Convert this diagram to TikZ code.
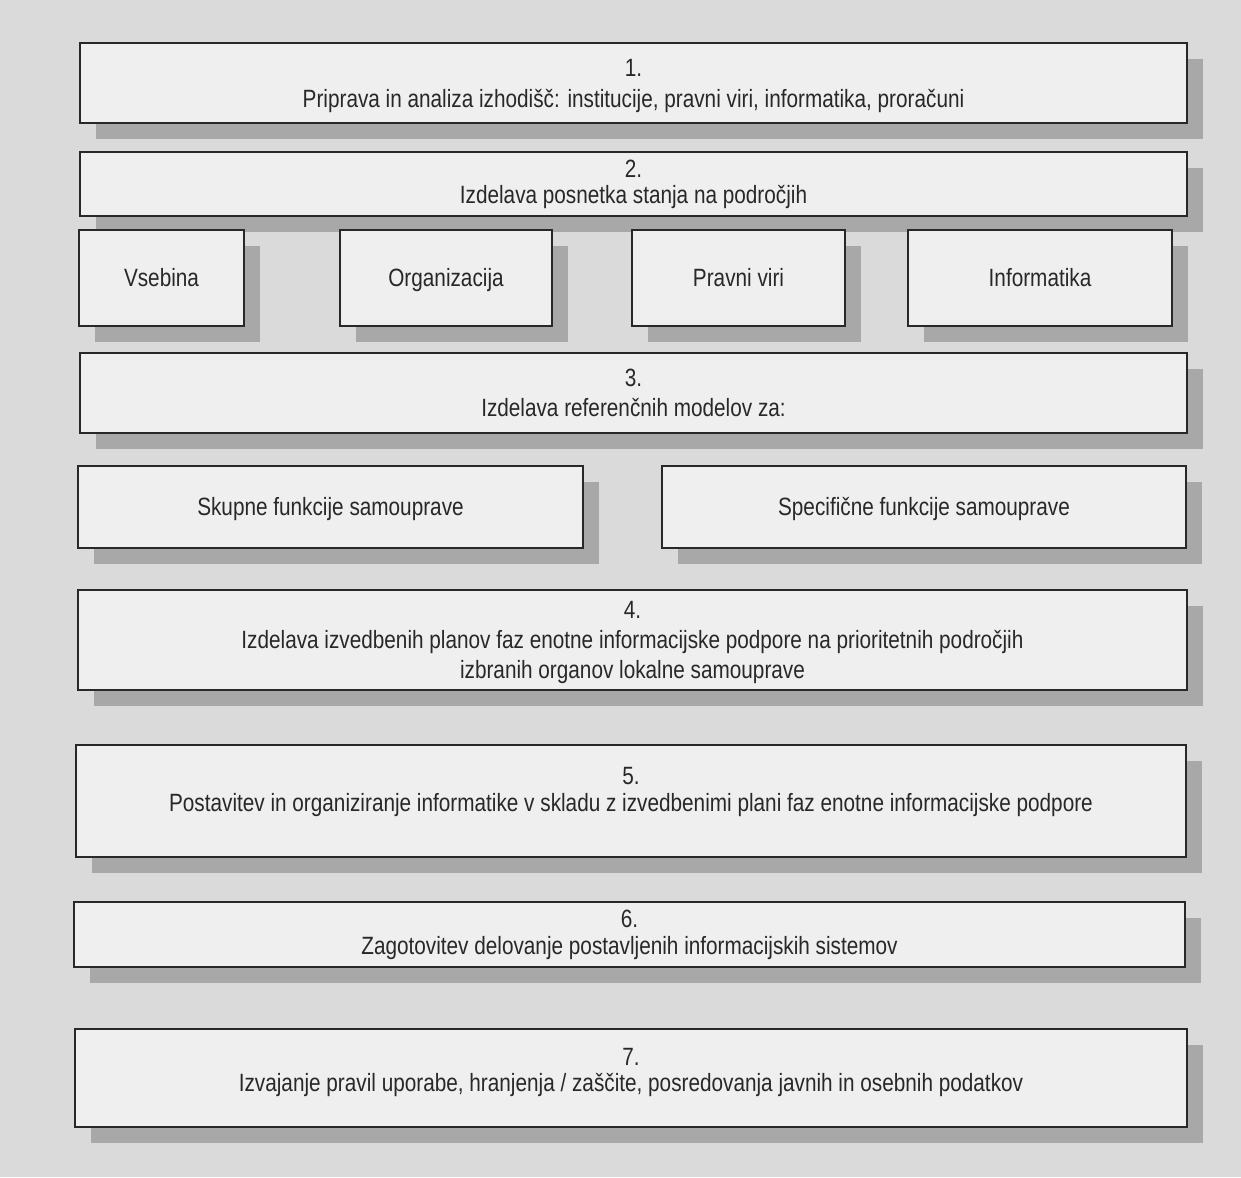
\documentclass[tikz,border=0pt]{standalone}
\usepackage{fontspec}
\setmainfont{Liberation Sans}[FakeStretch=0.83]
\usetikzlibrary{shadows}

\definecolor{pagegray}{RGB}{218,218,218}
\definecolor{boxgray}{RGB}{239,239,239}
\definecolor{shadowgray}{RGB}{168,168,168}
\definecolor{inkgray}{RGB}{40,40,40}

\tikzset{
    stepbox/.style={draw=inkgray, line width=1pt, fill=boxgray, text=inkgray,
        align=center, inner sep=0pt, font=\fontsize{12.5}{15}\selectfont,
        drop shadow={shadow xshift=8pt, shadow yshift=-8pt, fill=shadowgray, opacity=1}},
    onerow/.style={text height=9pt, text depth=1pt},
    wide/.style={minimum width=#1*0.5pt},
    tall/.style={minimum height=#1*0.5pt}
}

\begin{document}
\begin{tikzpicture}[x=0.5pt,y=-0.5pt]
        \fill[pagegray] (0,0) rectangle (1241,1177);
        \useasboundingbox (0,0) rectangle (1241,1177);
        % 1. and 2.
        \node[stepbox, wide=1107, tall=80, text depth=0pt] (prip) at (633.5,83)
            {1.\\[0.5pt] Priprava in analiza izhodišč: institucije, pravni viri, informatika, proračuni};
        \node[stepbox, wide=1107, tall=64] (posn) at (633.5,184)
            {2.\\[-2pt] Izdelava posnetka stanja na področjih};
        \foreach \x/\w/\t/\n in {161.5/165/Vsebina/vseb, 446/212/Organizacija/orga,
                                 738.5/213/Pravni viri/prav, 1040/264/Informatika/info}
        {
            \node[stepbox, onerow, wide=\w, tall=96] (\n) at (\x,278) {\t};
        }
        % 3.
        \node[stepbox, wide=1107, tall=80] (refm) at (633.5,393)
            {3.\\ Izdelava referenčnih modelov za:};
        \node[stepbox, onerow, wide=505, tall=82] (skup) at (330.5,507) {Skupne funkcije samouprave};
        \node[stepbox, onerow, wide=524, tall=82] (spec) at (924,507) {Specifične funkcije samouprave};
        % 4. to 7.
        \node[stepbox, wide=1109, tall=100, text depth=0pt] (plan) at (632.5,640)
            {4.\\ Izdelava izvedbenih planov faz enotne informacijske podpore na prioritetnih področjih\\
             izbranih organov lokalne samouprave};
        \node[stepbox, wide=1110, tall=112, text depth=12pt] (post) at (631,801)
            {5.\\[-1.5pt] Postavitev in organiziranje informatike v skladu z izvedbenimi plani faz enotne informacijske podpore};
        \node[stepbox, wide=1111, tall=65] (zago) at (629.5,934.5)
            {6.\\[-1.5pt] Zagotovitev delovanje postavljenih informacijskih sistemov};
        \node[stepbox, wide=1112, tall=98, text depth=8pt] (izva) at (631,1078)
            {7.\\[-2pt] Izvajanje pravil uporabe, hranjenja / zaščite, posredovanja javnih in osebnih podatkov};
    \end{tikzpicture}
\end{document}
